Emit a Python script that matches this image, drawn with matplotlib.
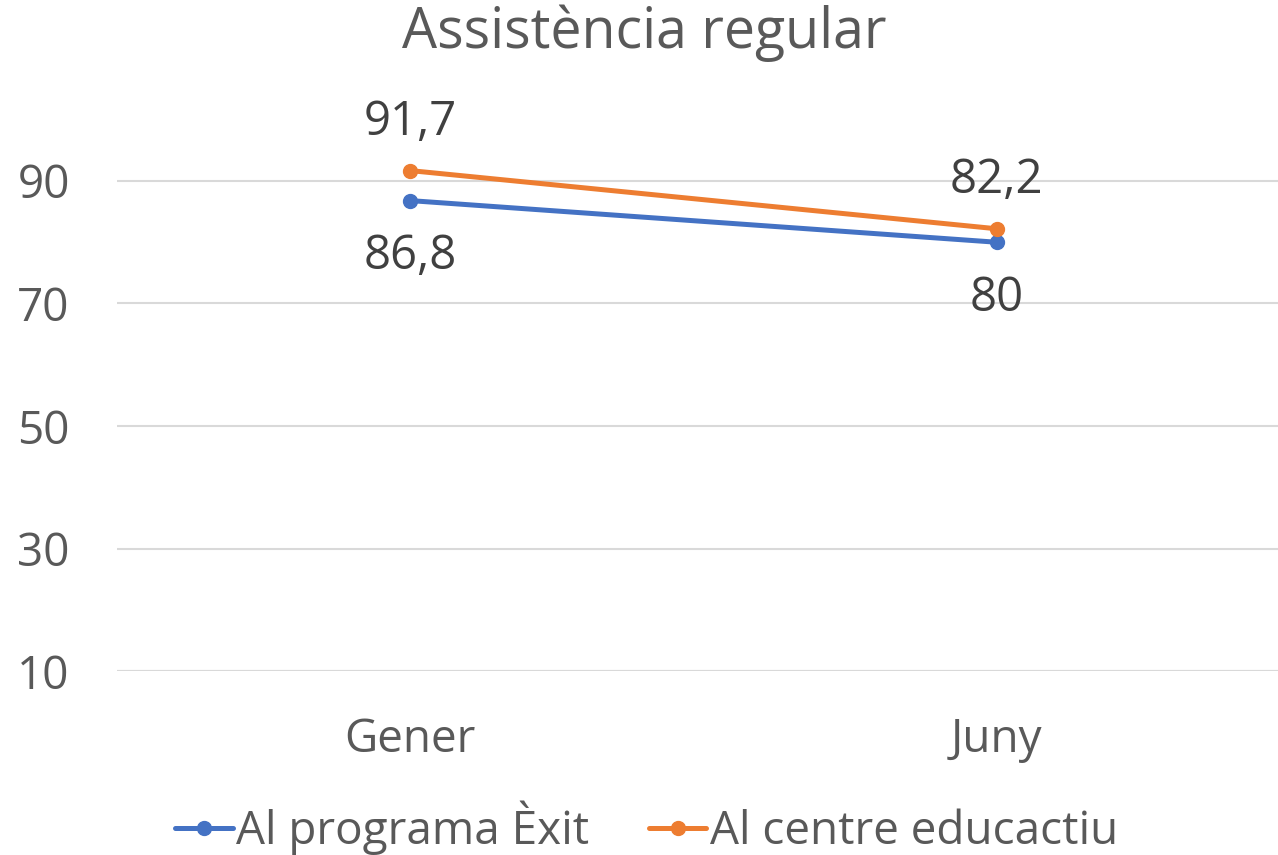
import matplotlib.pyplot as plt

# Dades
mesos = ['Gener', 'Juny']
programa_exit = [86.8, 80]
centre_educatiu = [91.7, 82.2]
etiquetes_exit = ['86,8', '80']
etiquetes_centre = ['91,7', '82,2']
yticks = [10, 30, 50, 70, 90]

blau = '#4472C4'
taronja = '#ED7D31'
gris = '#595959'

plt.rcParams['font.family'] = ['Open Sans', 'DejaVu Sans']

fig = plt.figure(figsize=(12.78, 8.55), dpi=100)
ax = fig.add_axes([117 / 1278, 1 - 671 / 855, 1173 / 1278, (671 - 119.75) / 855])

x = list(range(len(mesos)))
ax.plot(x, programa_exit, color=blau, lw=3.6, marker='o', ms=10, label='Al programa Èxit',
        solid_capstyle='round', zorder=3)
ax.plot(x, centre_educatiu, color=taronja, lw=3.6, marker='o', ms=10, label='Al centre educactiu',
        solid_capstyle='round', zorder=3)

for i in x:
    ax.annotate(etiquetes_centre[i], (i, centre_educatiu[i]), xytext=(0, 35),
                textcoords='offset points', ha='center', va='center', fontsize=34, color='#404040')
    ax.annotate(etiquetes_exit[i], (i, programa_exit[i]), xytext=(0, -40),
                textcoords='offset points', ha='center', va='center', fontsize=34, color='#404040')

ax.set_xlim(-0.5, 1.5)
ax.set_ylim(10, 100)
ax.set_xticks(x)
ax.set_xticklabels(mesos)
ax.set_yticks(yticks)
ax.tick_params(axis='both', length=0, labelsize=33, labelcolor=gris)
ax.tick_params(axis='y', pad=34)
ax.tick_params(axis='x', pad=33)
ax.grid(axis='y', color='#D9D9D9', lw=1.5)
ax.set_axisbelow(True)
for s in ax.spines.values():
    s.set_visible(False)
ax.axhline(10, color='#D9D9D9', lw=1.5, zorder=0)

fig.text(0.504, 1 - 33 / 855, 'Assistència regular', ha='center', va='center',
         fontsize=40, color=gris)

fig.legend(loc='center', bbox_to_anchor=(0.506, 1 - 828 / 855), ncol=2, frameon=False,
           fontsize=33, labelcolor=gris, handlelength=1.25, handletextpad=0.08,
           columnspacing=1.3, borderaxespad=0)

fig.savefig('out.png', dpi=100)
